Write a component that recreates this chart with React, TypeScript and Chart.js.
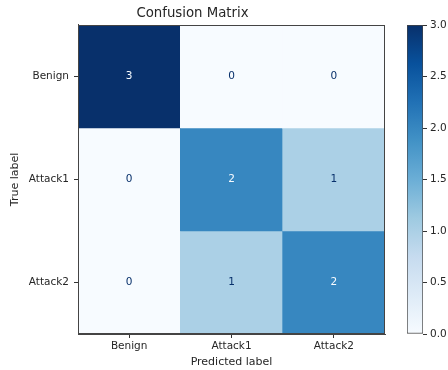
import React, { useEffect, useRef } from "react";
import { Chart, registerables } from "chart.js";
Chart.register(...registerables);

const predictedLabels = ["Benign", "Attack1", "Attack2"];
const trueLabels = ["Benign", "Attack1", "Attack2"];
const benignRow = [3, 0, 0];
const attack1Row = [0, 2, 1];
const attack2Row = [0, 1, 2];
const matrixRows = [benignRow, attack1Row, attack2Row];
const cellSpan = [1, 1, 1];
const colorbarTicks = [0, 0.5, 1, 1.5, 2, 2.5, 3];
const vMin = 0;
const vMax = 3;

const bluesStops = ["#f7fbff", "#deebf7", "#c6dbef", "#9ecae1", "#6baed6", "#4292c6", "#2171b5", "#08519c", "#08306b"];
const FONT = "'DejaVu Sans', sans-serif";
const TEXT = "#262626";
const EDGE = "#444444";

function hexToRgb(h: string) {
  return [parseInt(h.slice(1, 3), 16), parseInt(h.slice(3, 5), 16), parseInt(h.slice(5, 7), 16)];
}
function blues(t: number) {
  const tt = Math.max(0, Math.min(1, t));
  const pos = tt * (bluesStops.length - 1);
  const i = Math.min(bluesStops.length - 2, Math.floor(pos));
  const f = pos - i;
  const a = hexToRgb(bluesStops[i]);
  const b = hexToRgb(bluesStops[i + 1]);
  const c = a.map((v, k) => Math.round(v + (b[k] - v) * f));
  return `rgb(${c[0]},${c[1]},${c[2]})`;
}
const norm = (v: number) => (v - vMin) / (vMax - vMin);

export default function App() {
  const mainRef = useRef<HTMLCanvasElement>(null);
  const cbRef = useRef<HTMLCanvasElement>(null);

  useEffect(() => {
    document.body.style.margin = "0";
    Chart.defaults.font.family = FONT;

    const thresh = (vMax + vMin) / 2;
    const cellText = {
      id: "cellText",
      afterDatasetsDraw(chart: any) {
        const ctx = chart.ctx;
        ctx.save();
        ctx.font = `10.5px ${FONT}`;
        ctx.textAlign = "center";
        ctx.textBaseline = "middle";
        matrixRows.forEach((row, r) => {
          const meta = chart.getDatasetMeta(r);
          meta.data.forEach((bar: any, c: number) => {
            const p = bar.getProps(["x", "y", "base"], true);
            const v = row[c];
            ctx.fillStyle = v < thresh ? blues(1) : blues(0);
            ctx.fillText(String(v), p.x, (p.y + p.base) / 2);
          });
        });
        ctx.restore();
      },
    };
    const frame = {
      id: "frame",
      afterDraw(chart: any) {
        const { ctx, chartArea: a } = chart;
        ctx.save();
        ctx.strokeStyle = EDGE;
        ctx.lineWidth = 1;
        ctx.strokeRect(Math.round(a.left) + 0.5, Math.round(a.top) + 0.5, Math.round(a.right - a.left) - 1, Math.round(a.bottom - a.top) - 1);
        ctx.restore();
      },
    };

    const tickGrid = { display: true, drawOnChartArea: false, drawTicks: true, tickLength: 4, color: "#333333", offset: false };

    const main = new Chart(mainRef.current!, {
      type: "bar",
      data: {
        labels: predictedLabels,
        datasets: matrixRows.map((row, r) => ({
          label: trueLabels[r],
          data: cellSpan,
          backgroundColor: row.map((v) => blues(norm(v))),
          borderWidth: 0,
          barPercentage: 1,
          categoryPercentage: 1,
        })),
      },
      options: {
        responsive: false,
        animation: false,
        layout: { padding: { left: 0, right: 63, top: 0, bottom: 0 } },
        plugins: {
          legend: { display: false },
          tooltip: { enabled: false },
          title: {
            display: true,
            text: "Confusion Matrix",
            color: TEXT,
            font: { size: 13.3, family: FONT, weight: "normal", lineHeight: 1.2 },
            padding: { top: 6, bottom: 3 },
          },
        },
        scales: {
          x: {
            stacked: true,
            grid: tickGrid as any,
            border: { display: true, color: EDGE },
            ticks: { color: TEXT, font: { size: 10.5 }, padding: 2, maxRotation: 0 },
            title: { display: true, text: "Predicted label", color: TEXT, font: { size: 11 }, padding: { top: 0, bottom: 1 } },
            afterFit: (s: any) => {
              s.height = 36;
            },
          },
          y: {
            type: "linear",
            stacked: true,
            reverse: true,
            min: 0,
            max: trueLabels.length,
            afterBuildTicks: (s: any) => {
              s.ticks = trueLabels.map((_, i) => ({ value: i + 0.5 }));
            },
            grid: tickGrid as any,
            border: { display: true, color: EDGE },
            ticks: {
              color: TEXT,
              font: { size: 10.5 },
              padding: 5,
              autoSkip: false,
              callback: (v: any) => trueLabels[Math.floor(Number(v))],
            },
            title: { display: true, text: "True label", color: TEXT, font: { size: 11 }, padding: { top: 9, bottom: 0 } },
            afterFit: (s: any) => {
              s.width = 78;
            },
          },
        },
      },
      plugins: [cellText, frame],
    } as any);

    const cb = new Chart(cbRef.current!, {
      type: "bar",
      data: {
        labels: ["scale"],
        datasets: [
          {
            data: [[vMin, vMax]],
            backgroundColor: (c: any) => {
              const chart = c.chart;
              const ys = chart.scales?.y;
              if (!chart.chartArea || !ys) return blues(0.5);
              const g = chart.ctx.createLinearGradient(0, ys.getPixelForValue(vMin), 0, ys.getPixelForValue(vMax));
              bluesStops.forEach((col, i) => g.addColorStop(i / (bluesStops.length - 1), col));
              return g;
            },
            borderColor: EDGE,
            borderWidth: 1,
            borderSkipped: false,
            barPercentage: 1,
            categoryPercentage: 1,
          },
        ],
      },
      options: {
        responsive: false,
        animation: false,
        layout: { padding: { left: 407, right: 0, top: 25, bottom: 36 } },
        plugins: { legend: { display: false }, tooltip: { enabled: false }, title: { display: false } },
        scales: {
          x: { display: false },
          y: {
            position: "right",
            min: vMin,
            max: vMax,
            afterBuildTicks: (s: any) => {
              s.ticks = colorbarTicks.map((v) => ({ value: v }));
            },
            grid: { display: true, drawOnChartArea: false, drawTicks: true, tickLength: 4, color: "#333333" },
            border: { display: false },
            ticks: {
              color: TEXT,
              font: { size: 10.5 },
              padding: 3,
              autoSkip: false,
              callback: (v: any) => Number(v).toFixed(1),
            },
            afterFit: (s: any) => {
              s.width = 25;
            },
          },
        },
      },
    } as any);

    return () => {
      main.destroy();
      cb.destroy();
    };
  }, []);

  return (
    <div style={{ position: "relative", width: 448, height: 370, background: "#ffffff" }}>
      <canvas ref={mainRef} width={448} height={370} style={{ position: "absolute", left: 0, top: 0 }} />
      <canvas ref={cbRef} width={448} height={370} style={{ position: "absolute", left: 0, top: 0, pointerEvents: "none" }} />
    </div>
  );
}
